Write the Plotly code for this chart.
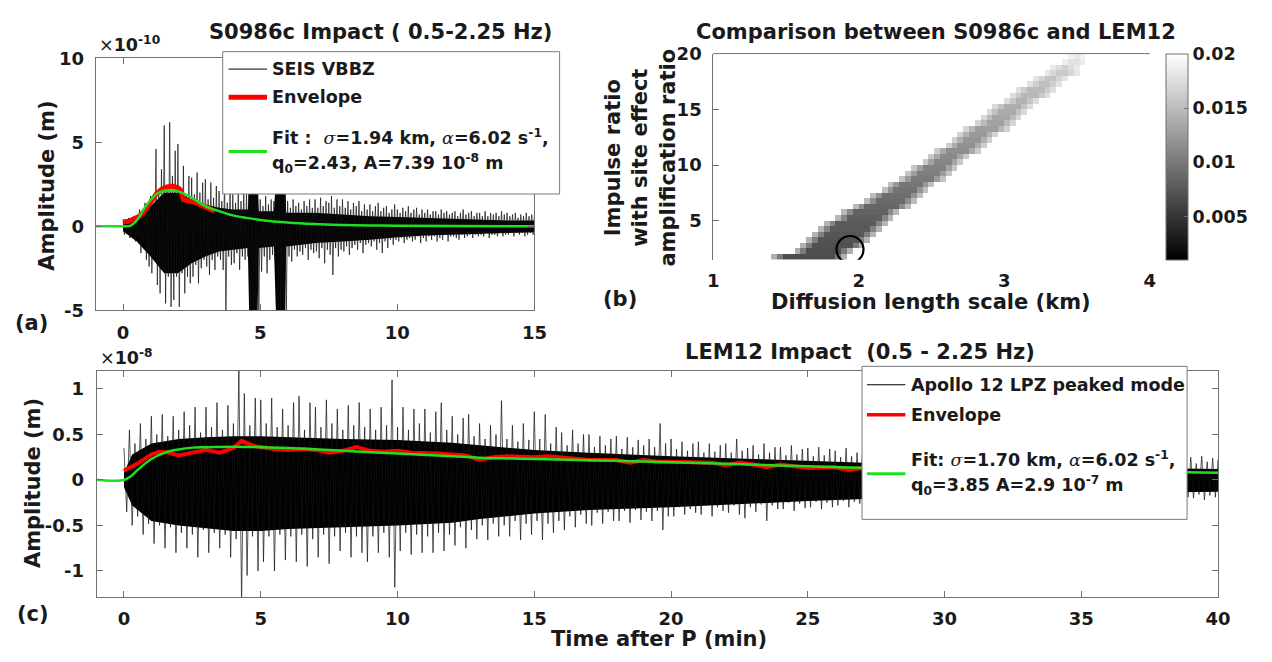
import plotly.graph_objects as go

W, H = 1272, 662
FONT = "DejaVu Sans"
TXT = "#1a1a1a"
AX = "#707070"


def fx(p):
    return p / W


def fy(p):
    return 1 - p / H


# ---------------- Panel (a): S0986c, amplitude in 1e-10 m ----------------
a_step = 0.1
a_t = [round(a_step * i, 1) for i in range(151)]
a_up = [0.4, 0.2, 0.5, 0.3, 0.6, 0.4, 1.0, 0.6, 1.4, 0.9,
        1.8, 1.2, 4.6, 2.0, 3.4, 6.0, 2.4, 6.2, 3.0, 4.5,
        4.9, 2.2, 3.6, 1.8, 3.0, 2.9, 1.9, 3.2, 2.0, 2.6,
        2.8, 1.6, 2.6, 1.7, 2.4, 2.1, 1.5, 3.0, 1.4, 2.2,
        1.9, 1.4, 2.1, 1.5, 2.0, 1.9, 3.0, 3.0, 3.0, 3.0,
        1.6, 1.2, 1.8, 1.3, 1.6, 1.5, 3.0, 3.0, 3.0, 3.0,
        1.5, 1.1, 1.6, 1.2, 1.4, 1.0, 1.5, 1.2, 1.6, 1.1,
        1.6, 1.1, 1.7, 1.2, 1.5, 1.4, 1.8, 1.1, 1.6, 1.2,
        1.6, 1.1, 1.5, 1.0, 1.4, 1.2, 1.5, 0.9, 1.3, 1.0,
        1.3, 0.9, 1.2, 1.4, 0.9, 1.1, 1.2, 0.8, 1.0, 1.3,
        1.0, 0.8, 1.1, 0.9, 1.2, 0.8, 1.0, 1.1, 0.7, 1.0,
        0.8, 1.0, 0.7, 0.9, 0.9, 0.7, 1.0, 0.8, 0.9, 0.7,
        0.8, 0.9, 0.6, 0.8, 1.0, 0.7, 0.8, 0.9, 0.6, 0.8,
        0.8, 0.6, 0.9, 0.6, 0.8, 0.7, 0.8, 0.6, 0.9, 0.7,
        0.8, 0.6, 0.7, 0.8, 0.5, 0.7, 0.6, 0.8, 0.6, 0.7,
        0.7]
a_dn = [-0.5, -0.3, -0.7, -0.5, -0.9, -0.6, -1.6, -1.0, -2.0, -2.4,
        -2.8, -1.9, -3.5, -4.0, -2.6, -4.6, -3.0, -4.8, -4.4, -3.0,
        -4.8, -2.8, -4.0, -3.0, -3.4, -3.0, -2.3, -3.4, -2.5, -2.0,
        -2.4, -2.9, -2.0, -2.6, -1.8, -2.0, -2.6, -5.5, -1.8, -2.3,
        -2.2, -1.6, -2.6, -1.8, -2.0, -1.8, -5.5, -5.5, -5.5, -5.5,
        -2.7, -1.8, -2.8, -2.0, -1.7, -2.0, -5.5, -5.5, -5.5, -5.5,
        -1.8, -2.1, -1.4, -1.8, -1.5, -1.7, -1.3, -2.0, -1.4, -1.6,
        -1.5, -1.9, -1.3, -2.2, -1.4, -1.7, -2.9, -1.3, -1.8, -1.4,
        -1.5, -1.2, -1.7, -1.3, -1.1, -1.4, -1.0, -1.6, -1.1, -1.0,
        -1.2, -0.9, -1.4, -1.0, -1.6, -0.9, -1.3, -0.8, -1.1, -0.8,
        -0.9, -0.7, -1.0, -0.8, -0.7, -0.9, -0.8, -0.6, -1.0, -0.7,
        -0.9, -0.6, -0.8, -0.6, -0.9, -0.7, -0.8, -0.5, -0.9, -0.6,
        -0.6, -0.7, -0.8, -0.5, -0.7, -0.6, -0.5, -0.7, -0.5, -0.6,
        -0.5, -0.6, -0.4, -0.7, -0.5, -0.5, -0.6, -0.4, -0.6, -0.5,
        -0.5, -0.4, -0.6, -0.4, -0.5, -0.4, -0.6, -0.5, -0.4, -0.5,
        -0.5]
a_core_t = [0, 0.5, 1.0, 1.5, 2.0, 2.5, 3.0, 3.5, 4.0, 4.55, 4.6, 4.9, 4.95,
            5.5, 5.58, 5.9, 5.95, 6.5, 7, 8, 9, 10, 11, 12, 13, 14, 15]
a_core_up = [0.3, 0.6, 1.2, 2.0, 2.0, 1.6, 1.3, 1.1, 1.0, 1.0, 3.0, 3.0, 0.9,
             0.9, 3.0, 3.0, 0.8, 0.8, 0.8, 0.7, 0.6, 0.55, 0.5, 0.45, 0.4, 0.35, 0.35]
a_core_dn = [-0.3, -0.9, -1.8, -2.8, -2.8, -2.2, -1.8, -1.5, -1.4, -1.3, -5.5, -5.5, -1.3,
             -1.2, -5.5, -5.5, -1.2, -1.1, -1.0, -0.9, -0.8, -0.65, -0.55, -0.5, -0.45, -0.4, -0.35]
a_env_t = [0, 0.2, 0.4, 0.6, 0.8, 1.0, 1.2, 1.4, 1.6, 1.8, 2.0, 2.1, 2.2, 2.4, 2.6, 2.8, 3.0, 3.2, 3.35]
a_env = [0.25, 0.3, 0.45, 0.6, 0.95, 1.45, 1.9, 2.2, 2.35, 2.4, 2.3, 2.15, 1.6, 1.5, 1.45, 1.3, 1.15, 1.0, 0.9]
a_fit_t = [-1, 0, 0.25, 0.5, 0.75, 1.0, 1.25, 1.5, 1.75, 2.0, 2.3, 2.6, 3.0, 3.5, 4.0, 4.5,
           5.0, 6.0, 7.0, 8.0, 9.0, 10, 12, 15]
a_fit = [0, 0, 0.02, 0.35, 1.0, 1.55, 1.95, 2.12, 2.15, 2.08, 1.88, 1.6, 1.2, 0.9, 0.65, 0.5,
         0.38, 0.22, 0.13, 0.08, 0.05, 0.03, 0.01, 0.0]

# ---------------- Panel (c): LEM12, amplitude in 1e-8 m ----------------
c_step = 0.2
c_t = [round(c_step * i, 1) for i in range(201)]
c_up = [.35, .55, .40, .62, .45, .70, .50, .72, .48, .70, .55, .75, .60, .80, .52,
        .80, .58, .85, .55, .82, .62, 1.2, .95, .60, .90, .88, .62, .90, .58, .78,
        .60, .85, .92, .55, .85, .80, .58, .88, .62, .78, .55, .82, .60, .85, .58,
        .78, .55, .80, .60, 1.10, .58, .80, .55, .78, .62, .78, .52, .75, .85, .55,
        .70, .50, .68, .72, .48, .62, .45, .60, .50, .87, .45, .60, .42, .62, .44,
        .75, .45, .72, .40, .58, .52, .38, .55, .40, .50, .50, .36, .48, .38, .45,
        .48, .34, .47, .36, .44, .38, .45, .36, .62, .40, .45, .34, .42, .32, .40,
        .42, .30, .40, .31, .38, .40, .30, .45, .32, .35, .38, .28, .40, .30, .36,
        .36, .27, .38, .28, .34, .35, .26, .36, .27, .34, .32, .25, .35, .26, .30,
        .30, .24, .29, .23, .28, .29, .23, .30, .22, .27, .28, .22, .29, .23, .26,
        .28, .21, .27, .22, .26, .27, .22, .28, .21, .25, .27, .21, .26, .22, .25,
        .26, .20, .27, .21, .25, .26, .21, .25, .20, .24, .26, .20, .25, .21, .24,
        .25, .19, .26, .20, .24, .25, .20, .24, .19, .25, .25, .18, .26, .20, .24,
        .25, .18, .26, .20, .24, .22]
c_dn = [-.35, -.50, -.40, -.60, -.48, -.70, -.50, -.75, -.52, -.80, -.58, -.75, -.60, -.85, -.55,
        -.80, -.58, -.75, -.60, -.85, -.65, -1.35, -1.05, -.62, -1.00, -.90, -.62, -1.00, -.60, -.88,
        -.62, -.90, -.60, -.95, -.65, -.85, -.60, -.92, -.62, -.78, -.58, -.85, -.62, -.80, -.90,
        -.62, -.80, -.58, -.85, -1.18, -.78, -.58, -.82, -.60, -.80, -.62, -.80, -.58, -.78, -.60,
        -.72, -.52, -.75, -.55, -.65, -.50, -.66, -.48, -.62, -.50, -.62, -.45, -.66, -.48, -.60,
        -.45, -.66, -.48, -.58, -.45, -.55, -.40, -.52, -.38, -.48, -.50, -.36, -.48, -.35, -.45,
        -.45, -.34, -.47, -.33, -.44, -.35, -.45, -.34, -.55, -.40, -.40, -.30, -.38, -.32, -.36,
        -.38, -.28, -.40, -.30, -.34, -.36, -.28, -.38, -.42, -.30, -.35, -.27, -.45, -.28, -.32,
        -.32, -.25, -.34, -.26, -.31, -.30, -.24, -.32, -.25, -.30, -.28, -.23, -.30, -.24, -.26,
        -.26, -.20, -.25, -.21, -.24, -.25, -.20, -.26, -.19, -.24, -.25, -.19, -.24, -.20, -.23,
        -.24, -.18, -.25, -.19, -.23, -.24, -.19, -.23, -.18, -.22, -.23, -.18, -.24, -.19, -.22,
        -.23, -.17, -.23, -.18, -.22, -.22, -.18, -.23, -.17, -.21, -.22, -.17, -.22, -.18, -.21,
        -.22, -.17, -.22, -.17, -.21, -.21, -.16, -.22, -.17, -.20, -.20, -.16, -.22, -.17, -.19,
        -.20, -.16, -.22, -.17, -.19, -.20]
c_core_t = [0, 0.3, 1, 2, 3, 4, 5, 6, 8, 10, 12, 13, 15, 17, 20, 23, 25, 27, 30, 35, 40]
c_core_up = [0.08, 0.28, 0.4, 0.45, 0.47, 0.48, 0.48, 0.47, 0.45, 0.44, 0.41, 0.38, 0.33, 0.3,
             0.26, 0.23, 0.21, 0.19, 0.16, 0.14, 0.12]
c_core_dn = [-0.08, -0.28, -0.45, -0.5, -0.53, -0.56, -0.56, -0.54, -0.52, -0.5, -0.47, -0.43,
             -0.37, -0.33, -0.3, -0.26, -0.23, -0.21, -0.18, -0.15, -0.13]
c_env_t = [0, 0.5, 1, 1.3, 1.6, 2, 2.5, 3, 3.5, 4, 4.3, 4.8, 5.5, 6, 6.5, 7, 7.5, 8, 8.5, 9,
           9.5, 10, 10.5, 11, 11.5, 12, 12.5, 13, 13.5, 14, 15, 15.5, 16, 17, 18, 18.5, 19, 19.5,
           20, 21, 21.5, 22, 22.5, 23, 23.5, 24, 24.5, 25, 26, 26.5, 27, 28, 29]
c_env = [0.1, 0.18, 0.28, 0.31, 0.3, 0.27, 0.3, 0.33, 0.3, 0.35, 0.43, 0.37, 0.34, 0.33, 0.34,
         0.33, 0.3, 0.32, 0.36, 0.32, 0.31, 0.32, 0.3, 0.3, 0.29, 0.28, 0.27, 0.22, 0.25, 0.26,
         0.25, 0.26, 0.25, 0.22, 0.22, 0.19, 0.22, 0.2, 0.2, 0.2, 0.19, 0.16, 0.19, 0.17, 0.14,
         0.17, 0.15, 0.13, 0.14, 0.11, 0.13, 0.12, 0.11]
c_fit_t = [-1, 0, 0.25, 0.5, 1, 1.5, 2, 2.5, 3, 4, 5, 6, 8, 10, 12, 13, 15, 20, 25, 27, 30, 35, 40]
c_fit = [0, 0, 0.04, 0.11, 0.23, 0.3, 0.335, 0.355, 0.36, 0.365, 0.36, 0.35, 0.32, 0.29, 0.26,
         0.245, 0.23, 0.195, 0.15, 0.134, 0.12, 0.1, 0.08]

# ---------------- Panel (b): misfit map ----------------
b_x = [round(1.02 + 0.04 * i, 2) for i in range(75)]        # diffusion length (km), cell centres
b_y = [round(1.75 + 0.5 * i, 2) for i in range(37)]         # impulse ratio, cell centres
b_left = [1.42, 1.55, 1.60, 1.64, 1.68, 1.72, 1.776, 1.838, 1.90, 1.962, 2.024, 2.086, 2.147,
          2.208, 2.269, 2.324, 2.379, 2.434, 2.489, 2.538, 2.587, 2.636, 2.685, 2.734, 2.783,
          2.831, 2.880, 2.928, 2.982, 3.038, 3.093, 3.149, 3.206, 3.264, 3.322, 3.39, 3.44]
b_right = [1.926, 1.973, 2.02, 2.067, 2.113, 2.16, 2.206, 2.252, 2.297, 2.342, 2.39, 2.439,
           2.487, 2.536, 2.585, 2.633, 2.682, 2.73, 2.779, 2.827, 2.876, 2.925, 2.974, 3.022,
           3.068, 3.112, 3.156, 3.20, 3.25, 3.302, 3.354, 3.405, 3.453, 3.50, 3.525, 3.545, 3.56]
b_val = [0.0068, 0.0068, 0.0070, 0.0072, 0.0074, 0.0076, 0.0078, 0.0080, 0.0083, 0.0086,
         0.0089, 0.0092, 0.0095, 0.0098, 0.0101, 0.0104, 0.0107, 0.0110, 0.0113, 0.0116,
         0.0119, 0.0122, 0.0125, 0.0128, 0.0131, 0.0134, 0.0137, 0.0140, 0.0143, 0.0146,
         0.0149, 0.0152, 0.0156, 0.0160, 0.0165, 0.0170, 0.0178]
best_sigma = [1.94]
best_q0 = [2.43]
cb_ticks = [0.005, 0.01, 0.015, 0.02]
cb_text = ["0.005", "0.01", "0.015", "0.02"]

# build heatmap grid from row extents (lighter cells at band edges)
z = []
for L, R, v in zip(b_left, b_right, b_val):
    row = []
    for xc in b_x:
        if L <= xc <= R:
            d = min(xc - L, R - xc) / 0.04
            if d < 1:
                row.append(v + 0.55 * (0.02 - v))
            elif d < 2:
                row.append(v + 0.25 * (0.02 - v))
            else:
                row.append(v)
        else:
            row.append(None)
    z.append(row)


def zigzag(t, up, dn, half):
    xs, ys = [], []
    for ti, u, d in zip(t, up, dn):
        xs += [ti, ti + half]
        ys += [u, d]
    return xs, ys


def band(t, up, dn):
    return list(t) + list(t)[::-1], list(up) + list(dn)[::-1]


fig = go.Figure()

# (a)
bx, by = band(a_core_t, a_core_up, a_core_dn)
fig.add_trace(go.Scatter(x=bx, y=by, fill="toself", fillcolor="black", line=dict(width=0),
                         mode="lines", xaxis="x", yaxis="y"))
zx, zy = zigzag(a_t, a_up, a_dn, a_step / 2)
fig.add_trace(go.Scatter(x=zx, y=zy, mode="lines", line=dict(color="#111", width=0.7),
                         xaxis="x", yaxis="y"))
fig.add_trace(go.Scatter(x=a_env_t, y=a_env, mode="lines", line=dict(color="#ff0000", width=5),
                         xaxis="x", yaxis="y"))
fig.add_trace(go.Scatter(x=a_fit_t, y=a_fit, mode="lines",
                         line=dict(color="#1ee01e", width=2.5, shape="spline"),
                         xaxis="x", yaxis="y"))

# (b)
fig.add_trace(go.Heatmap(x=b_x, y=b_y, z=z, zmin=0.001, zmax=0.02,
                         colorscale=[[0, "black"], [1, "white"]], hoverongaps=False,
                         xaxis="x2", yaxis="y2",
                         colorbar=dict(x=fx(1178), xanchor="left", y=fy(257), yanchor="bottom",
                                       len=213 / H, lenmode="fraction", thickness=22,
                                       thicknessmode="pixels",
                                       xpad=0, ypad=0, outlinecolor=AX, outlinewidth=1,
                                       tickvals=cb_ticks, ticktext=cb_text, ticks="inside",
                                       ticklen=4, tickcolor=AX,
                                       tickfont=dict(family=FONT, size=17.5, color=TXT, weight="bold"))))
fig.add_trace(go.Scatter(x=best_sigma, y=best_q0, mode="markers",
                         marker=dict(symbol="circle-open", size=27, color="black", line=dict(width=2.2)),
                         xaxis="x2", yaxis="y2"))

# (c)
bx, by = band(c_core_t, c_core_up, c_core_dn)
fig.add_trace(go.Scatter(x=bx, y=by, fill="toself", fillcolor="black", line=dict(width=0),
                         mode="lines", xaxis="x3", yaxis="y3"))
zx, zy = zigzag(c_t, c_up, c_dn, c_step / 2)
fig.add_trace(go.Scatter(x=zx, y=zy, mode="lines", line=dict(color="#111", width=0.7),
                         xaxis="x3", yaxis="y3"))
fig.add_trace(go.Scatter(x=c_env_t, y=c_env, mode="lines", line=dict(color="#ff0000", width=4),
                         xaxis="x3", yaxis="y3"))
fig.add_trace(go.Scatter(x=c_fit_t, y=c_fit, mode="lines",
                         line=dict(color="#1ee01e", width=2.5, shape="spline"),
                         xaxis="x3", yaxis="y3"))

tickfont = dict(family=FONT, size=18, color=TXT, weight="bold")
common = dict(showline=True, linecolor=AX, linewidth=1, mirror="ticks", ticks="inside",
              ticklen=6, tickcolor=AX, tickfont=tickfont, showgrid=False, zeroline=False)

fig.update_layout(
    width=W, height=H, margin=dict(l=0, r=0, t=0, b=0),
    paper_bgcolor="white", plot_bgcolor="white", showlegend=False,
    xaxis=dict(domain=[fx(91), fx(536.5)], range=[-1, 15], tickvals=[0, 5, 10, 15],
               anchor="y", ticklabelstandoff=6, **common),
    yaxis=dict(domain=[fy(309), fy(49)], range=[-5, 10], tickvals=[-5, 0, 5, 10],
               ticktext=["-5", "0", "5", "10"], anchor="x", ticklabelstandoff=7, **common),
    xaxis2=dict(domain=[fx(718), fx(1161)], range=[1, 4], tickvals=[1, 2, 3, 4], anchor="y2",
                showline=False, ticks="", tickfont=tickfont, showgrid=False, zeroline=False,
                ticklabelstandoff=8),
    yaxis2=dict(domain=[fy(257), fy(44)], range=[1.5, 20], tickvals=[5, 10, 15, 20], anchor="x2",
                showline=True, linecolor=AX, linewidth=1, mirror=False, ticks="inside", ticklen=6,
                tickcolor=AX, tickfont=tickfont, showgrid=False, zeroline=False, ticklabelstandoff=7),
    xaxis3=dict(domain=[fx(92), fx(1230.5)], range=[-1, 40], tickvals=[0, 5, 10, 15, 20, 25, 30, 35, 40],
                anchor="y3", ticklabelstandoff=6, **common),
    yaxis3=dict(domain=[fy(605), fy(371.5)], range=[-1.284, 1.2], tickvals=[-1, -0.5, 0, 0.5, 1],
                ticktext=["-1", "-0.5", "0", "0.5", "1"], anchor="x3", ticklabelstandoff=8, **common),
)

shapes = []
# top border of panel (b)
shapes.append(dict(type="line", xref="paper", yref="paper", x0=fx(718), x1=fx(1161), y0=fy(44), y1=fy(44),
                   line=dict(color=AX, width=1), layer="above"))


def legend_box(x0, x1, y0, y1):
    shapes.append(dict(type="rect", xref="paper", yref="paper", x0=fx(x0), x1=fx(x1), y0=fy(y1), y1=fy(y0),
                       fillcolor="white", line=dict(color="#7a7a7a", width=1), layer="above"))


def legend_line(x0, x1, y, color, width):
    shapes.append(dict(type="line", xref="paper", yref="paper", x0=fx(x0), x1=fx(x1), y0=fy(y), y1=fy(y),
                       line=dict(color=color, width=width), layer="above"))


legend_box(220, 562, 42, 189)
legend_line(226, 265, 60, "black", 1)
legend_line(226, 265, 89, "#ff0000", 5)
legend_line(226, 265, 145, "#1ee01e", 3)
legend_box(869, 1199, 367, 525)
legend_line(874, 913, 386, "black", 1)
legend_line(874, 913, 417, "#ff0000", 3.5)
legend_line(874, 913, 478, "#1ee01e", 3)
fig.update_layout(shapes=shapes)

ann = []


def text(x, y, s, size=17.5, xanchor="left", angle=0):
    ann.append(dict(x=fx(x), y=fy(y), xref="paper", yref="paper", text=s, showarrow=False,
                    xanchor=xanchor, yanchor="middle", textangle=angle,
                    font=dict(family=FONT, size=size, color=TXT, weight="bold")))


GR = "<span style='font-family:DejaVu Serif;font-weight:normal'><i>%s</i></span>"
X = "<span style='font-weight:normal'>×</span>"

# titles
text(380, 22, "S0986c Impact ( 0.5-2.25 Hz)", 21, "center")
text(944, 22, "Comparison between S0986c and LEM12", 21, "center")
text(867, 352, "LEM12 Impact  (0.5 - 2.25 Hz)", 21, "center")
# exponents
text(92, 34, X + "10<sup>-10</sup>", 17.5)
text(93, 357, X + "10<sup>-8</sup>", 17.5)
# axis titles
text(42, 180, "Amplitude (m)", 21, "center", -90)
text(27, 488, "Amplitude (m)", 21, "center", -90)
text(644, 151, "Impulse ratio<br>with site effect<br>amplification ratio", 21, "center", -90)
text(939, 301, "Diffusion length scale (km)", 21, "center")
text(663, 649, "Time after P (min)", 21, "center")
# panel labels
text(26, 322, "(a)", 21, "center")
text(623, 297, "(b)", 21, "center")
text(27, 623, "(c)", 21, "center")
# legend (a)
text(268, 60, "SEIS VBBZ")
text(268, 89, "Envelope")
text(268, 130, "Fit :  " + GR % "σ" + "=1.94 km, " + GR % "α" + "=6.02 s<sup>-1</sup>,")
text(268, 157, "q<sub>0</sub>=2.43, A=7.39 10<sup>-8</sup> m")
# legend (c)
text(917, 386, "Apollo 12 LPZ peaked mode")
text(917, 417, "Envelope")
text(917, 463, "Fit: " + GR % "σ" + "=1.70 km, " + GR % "α" + "=6.02 s<sup>-1</sup>,")
text(917, 490, "q<sub>0</sub>=3.85 A=2.9 10<sup>-7</sup> m")
fig.update_layout(annotations=ann)

post = ("document.documentElement.style.overflow='hidden';"
        "document.body.style.margin='0';document.body.style.overflow='hidden';")
fig.write_html("out.html", config={"staticPlot": True}, post_script=post)
